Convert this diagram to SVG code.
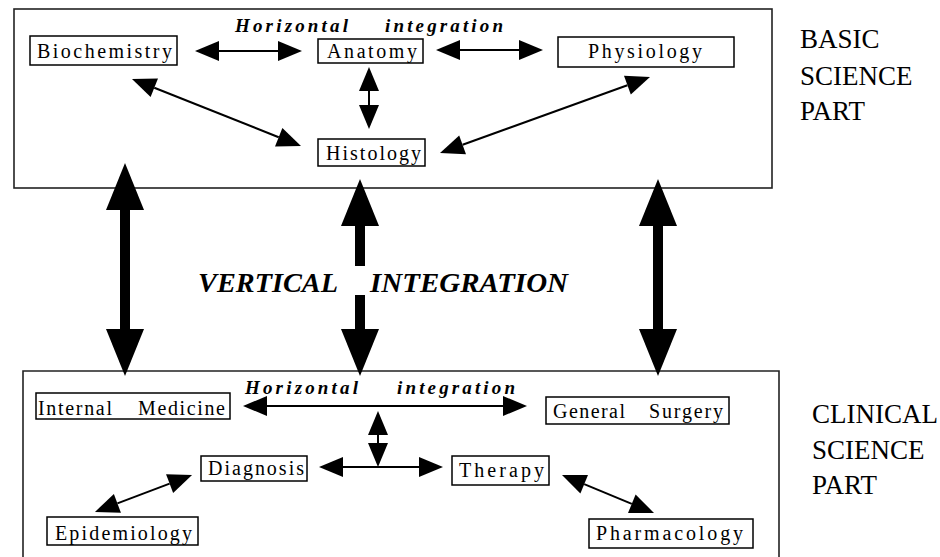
<svg xmlns="http://www.w3.org/2000/svg" width="940" height="557" viewBox="0 0 940 557">
  <style>
    .frame { fill: none; stroke: #222; stroke-width: 1.6; }
    .box { fill: #fff; stroke: #000; stroke-width: 1.5; }
    .lbl { font-family: "Liberation Serif", "Times New Roman", serif; font-size: 20px; fill: #000; }
    .hint { font-family: "Liberation Serif", "Times New Roman", serif; font-size: 19px; font-weight: bold; font-style: italic; fill: #000; }
    .vert { font-family: "Liberation Serif", "Times New Roman", serif; font-size: 28px; font-weight: bold; font-style: italic; fill: #000; }
    .part { font-family: "Liberation Serif", "Times New Roman", serif; font-size: 27px; fill: #000; }
    .thin { stroke: #000; stroke-width: 2; fill: none; marker-start: url(#sh); marker-end: url(#sh); }
    .thick { stroke: #000; stroke-width: 10; fill: none; }
  </style>
  <defs>
    <marker id="sh" markerUnits="userSpaceOnUse" markerWidth="24" markerHeight="20" refX="0" refY="10" orient="auto-start-reverse" overflow="visible">
      <path d="M0,0 L24,10 L0,20 z" fill="#000"/>
    </marker>
    <marker id="bh" markerUnits="userSpaceOnUse" markerWidth="47" markerHeight="38" refX="0" refY="19" orient="auto-start-reverse" overflow="visible">
      <path d="M0,0 L47,19 L0,38 z" fill="#000"/>
    </marker>
  </defs>

  <g id="basic-part">
    <rect class="frame" x="14" y="9" width="758" height="179"/>
    <text class="hint" x="235" y="32" textLength="113" lengthAdjust="spacing">Horizontal</text>
    <text class="hint" x="385" y="32" textLength="118" lengthAdjust="spacing">integration</text>
  </g>
  <g id="clinical-part">
    <path class="frame" d="M23,570 V371 H779 V570"/>
    <text class="hint" x="245" y="394" textLength="113" lengthAdjust="spacing">Horizontal</text>
    <text class="hint" x="397" y="394" textLength="118" lengthAdjust="spacing">integration</text>
  </g>

  <g id="label-basic">
    <text class="part" x="800" y="48">BASIC</text>
    <text class="part" x="800" y="85">SCIENCE</text>
    <text class="part" x="800" y="120">PART</text>
  </g>
  <g id="label-clinical">
    <text class="part" x="812" y="423">CLINICAL</text>
    <text class="part" x="812" y="459">SCIENCE</text>
    <text class="part" x="812" y="494">PART</text>
  </g>

  <g id="vertical-label">
    <text class="vert" x="198" y="292" textLength="140" lengthAdjust="spacingAndGlyphs">VERTICAL</text>
    <text class="vert" x="370" y="292" textLength="198" lengthAdjust="spacingAndGlyphs">INTEGRATION</text>
  </g>

  <g id="connectors">
    <line class="thin" x1="219" y1="51" x2="278" y2="51"/>
    <line class="thin" x1="460" y1="50" x2="519" y2="50"/>
    <line class="thin" x1="369" y1="91" x2="369" y2="105"/>
    <line class="thin" x1="154.3" y1="87.8" x2="278.7" y2="137.2"/>
    <line class="thin" x1="627.4" y1="85.2" x2="462.6" y2="144.8"/>
    <line class="thick" x1="125" y1="210" x2="125" y2="329" marker-start="url(#bh)" marker-end="url(#bh)"/>
    <line class="thick" x1="360" y1="226" x2="360" y2="266" marker-start="url(#bh)"/>
    <line class="thick" x1="360" y1="295" x2="360" y2="329" marker-end="url(#bh)"/>
    <line class="thick" x1="658" y1="226" x2="658" y2="329" marker-start="url(#bh)" marker-end="url(#bh)"/>
    <line class="thin" x1="267" y1="406" x2="503" y2="406"/>
    <line class="thin" x1="378" y1="435" x2="378" y2="443"/>
    <line class="thin" x1="343" y1="467" x2="419" y2="467"/>
    <line class="thin" x1="117.4" y1="503.4" x2="169.6" y2="483.6"/>
    <line class="thin" x1="584.2" y1="484.2" x2="631.8" y2="503.8"/>
  </g>

  <g id="biochemistry">
    <rect class="box" x="30" y="36" width="147" height="29"/>
    <text class="lbl" x="37" y="58" textLength="135" lengthAdjust="spacing">Biochemistry</text>
  </g>
  <g id="anatomy">
    <rect class="box" x="318" y="39" width="105" height="24"/>
    <text class="lbl" x="327" y="58" textLength="90" lengthAdjust="spacing">Anatomy</text>
  </g>
  <g id="physiology">
    <rect class="box" x="558" y="37" width="176" height="30"/>
    <text class="lbl" x="588" y="58" textLength="114" lengthAdjust="spacing">Physiology</text>
  </g>
  <g id="histology">
    <rect class="box" x="318" y="139" width="107" height="27"/>
    <text class="lbl" x="326" y="160" textLength="95" lengthAdjust="spacing">Histology</text>
  </g>

  <g id="internal-medicine">
    <rect class="box" x="36" y="393" width="194" height="26"/>
    <text class="lbl" x="38" y="415" textLength="74" lengthAdjust="spacing">Internal</text>
    <text class="lbl" x="138" y="415" textLength="87" lengthAdjust="spacing">Medicine</text>
  </g>
  <g id="general-surgery">
    <rect class="box" x="546" y="397" width="183" height="27"/>
    <text class="lbl" x="553" y="418" textLength="72" lengthAdjust="spacing">General</text>
    <text class="lbl" x="649" y="418" textLength="74" lengthAdjust="spacing">Surgery</text>
  </g>
  <g id="diagnosis">
    <rect class="box" x="201" y="456" width="106" height="25"/>
    <text class="lbl" x="208" y="475" textLength="96" lengthAdjust="spacing">Diagnosis</text>
  </g>
  <g id="therapy">
    <rect class="box" x="452" y="456" width="97" height="29"/>
    <text class="lbl" x="459" y="477" textLength="85" lengthAdjust="spacing">Therapy</text>
  </g>
  <g id="epidemiology">
    <rect class="box" x="47" y="517" width="151" height="28"/>
    <text class="lbl" x="55" y="540" textLength="137" lengthAdjust="spacing">Epidemiology</text>
  </g>
  <g id="pharmacology">
    <rect class="box" x="589" y="519" width="164" height="29"/>
    <text class="lbl" x="596" y="540" textLength="147" lengthAdjust="spacing">Pharmacology</text>
  </g>
</svg>
